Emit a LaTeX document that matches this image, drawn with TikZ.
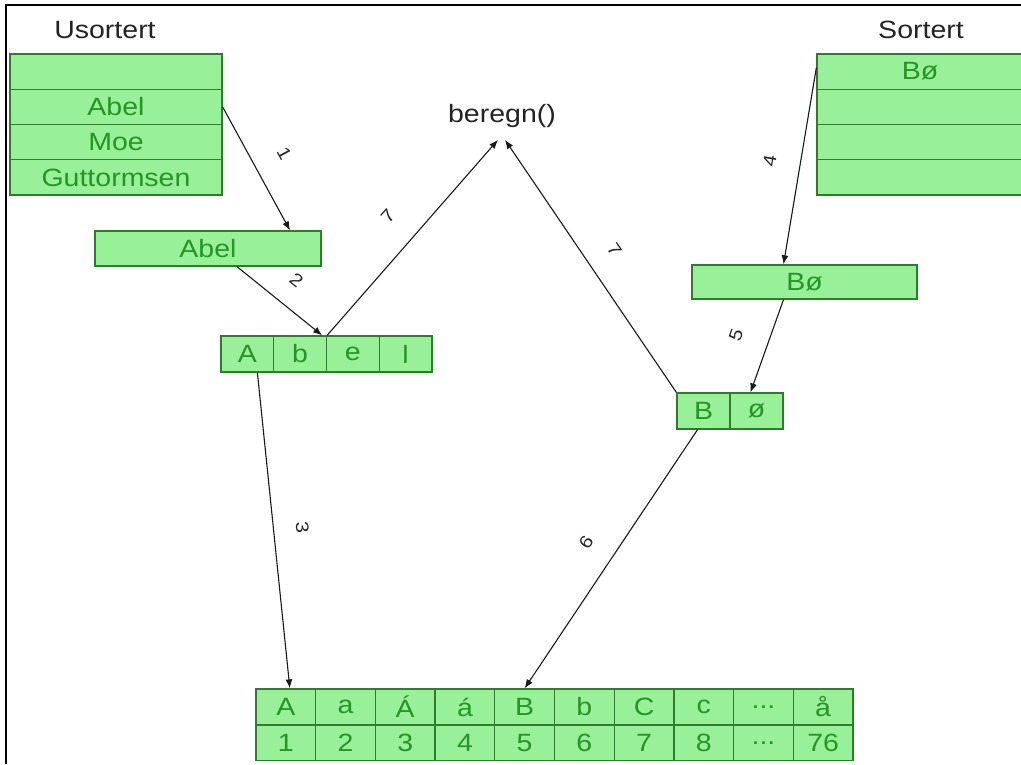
\documentclass[tikz,border=0pt]{standalone}
\usepackage{fontspec}
\setmainfont{Liberation Sans}[FakeStretch=1.14]
\usetikzlibrary{calc,arrows.meta}
\definecolor{boxfill}{RGB}{152,240,152}
\definecolor{boxline}{RGB}{45,125,45}
\definecolor{boxtext}{RGB}{38,148,38}
\definecolor{hdrc}{RGB}{35,35,35}
\tikzset{
  cell/.style={draw=boxline, fill=boxfill, text=boxtext, line width=1.3pt, inner sep=0pt, font=\fontsize{25}{28}\selectfont},
  tcell/.style={cell, minimum width=59.7pt, minimum height=36pt},
  ncell/.style={cell, minimum width=59.7pt, minimum height=35.5pt},
  hdr/.style={text=hdrc, font=\fontsize{25}{28}\selectfont, inner sep=0pt},
  lbl/.style={text=black!85, font=\fontsize{18}{19}\selectfont, inner sep=0pt, sloped},
  conn/.style={-{Latex[length=9pt,width=7pt]}, line width=1.1pt, black!90},
}
\begin{document}
\begin{tikzpicture}[x=1pt,y=-1pt]
\useasboundingbox (0,0) rectangle (1021,764);
\draw[line width=2pt, black] (6,764) -- (6,5) -- (1021,5);

% headers
\node[hdr] (us) at (105,30) {Usortert};
\node[hdr] (so) at (921,30) {Sortert};
\node[hdr] (ber) at (502,116) {beregn()};

% unsorted list
\node[cell, minimum width=212pt, minimum height=35.25pt] (u1) at (116,71.6) {};
\node[cell, minimum width=212pt, minimum height=35.25pt] (u2) at (116,106.9) {Abel};
\node[cell, minimum width=212pt, minimum height=35.25pt] (u3) at (116,142.1) {Moe};
\node[cell, minimum width=212pt, minimum height=35.25pt] (u4) at (116,177.4) {Guttormsen};

% sorted list
\node[cell, minimum width=206pt, minimum height=35.25pt] (r1) at (920,71.6) {Bø};
\node[cell, minimum width=206pt, minimum height=35.25pt] (r2) at (920,106.9) {};
\node[cell, minimum width=206pt, minimum height=35.25pt] (r3) at (920,142.1) {};
\node[cell, minimum width=206pt, minimum height=35.25pt] (r4) at (920,177.4) {};

% single words
\node[cell, minimum width=226pt, minimum height=35pt] (abel) at (208,248.5) {Abel};
\node[cell, minimum width=225pt, minimum height=34pt] (bo) at (804.5,282) {Bø};

% characters
\node[cell, minimum width=52.75pt, minimum height=36pt] (a1) at (247.4,354) {A};
\node[cell, minimum width=52.75pt, minimum height=36pt] (a2) at (300.1,354) {b};
\node[cell, minimum width=52.75pt, minimum height=36pt] (a3) at (352.9,354) {e};
\node[cell, minimum width=52.75pt, minimum height=36pt] (a4) at (405.6,354) {l};
\node[cell, minimum width=53pt, minimum height=36pt] (b1) at (703.5,411) {B};
\node[cell, minimum width=53pt, minimum height=36pt] (b2) at (756.5,411) {ø};

% table
\node[tcell] (t1) at (285.85,707) {A};
\node[tcell] (t2) at (345.55,707) {a};
\node[tcell] (t3) at (405.25,707) {Á};
\node[tcell] (t4) at (464.95,707) {á};
\node[tcell] (t5) at (524.65,707) {B};
\node[tcell] (t6) at (584.35,707) {b};
\node[tcell] (t7) at (644.05,707) {C};
\node[tcell] (t8) at (703.75,707) {c};
\node[tcell] (t9) at (763.45,707) {...};
\node[tcell] (t10) at (823.15,707) {å};
\node[ncell] (n1) at (285.85,742.75) {1};
\node[ncell] (n2) at (345.55,742.75) {2};
\node[ncell] (n3) at (405.25,742.75) {3};
\node[ncell] (n4) at (464.95,742.75) {4};
\node[ncell] (n5) at (524.65,742.75) {5};
\node[ncell] (n6) at (584.35,742.75) {6};
\node[ncell] (n7) at (644.05,742.75) {7};
\node[ncell] (n8) at (703.75,742.75) {8};
\node[ncell] (n9) at (763.45,742.75) {...};
\node[ncell] (n10) at (823.15,742.75) {76};

% connectors
\draw[conn] (u2.east) -- node[lbl, above=25pt] {1} ([xshift=82pt]abel.north);
\draw[conn] ([xshift=29pt]abel.south) -- node[lbl, above=20pt] {2} ([xshift=-5pt]a2.north east);
\draw[conn] ([xshift=10pt]a1.south) -- node[lbl, above=22pt] {3} ([xshift=4pt]t1.north);
\draw[conn] ([yshift=4pt]r1.west) -- node[lbl, above=24pt] {4} ([xshift=-21pt]bo.north);
\draw[conn] ([xshift=-21pt]bo.south) -- node[lbl, above=26pt] {5} ([xshift=-6pt]b2.north);
\draw[conn] ([xshift=-6pt]b1.south) -- node[lbl, above=23pt] {6} (t5.north);
\draw[conn] (a2.north east) -- node[lbl, above=26pt] {7} ([xshift=-4pt,yshift=-12pt]ber.south);
\draw[conn] (b1.north west) -- node[lbl, above=22pt] {7} ([xshift=3pt,yshift=-12pt]ber.south);
\end{tikzpicture}
\end{document}
